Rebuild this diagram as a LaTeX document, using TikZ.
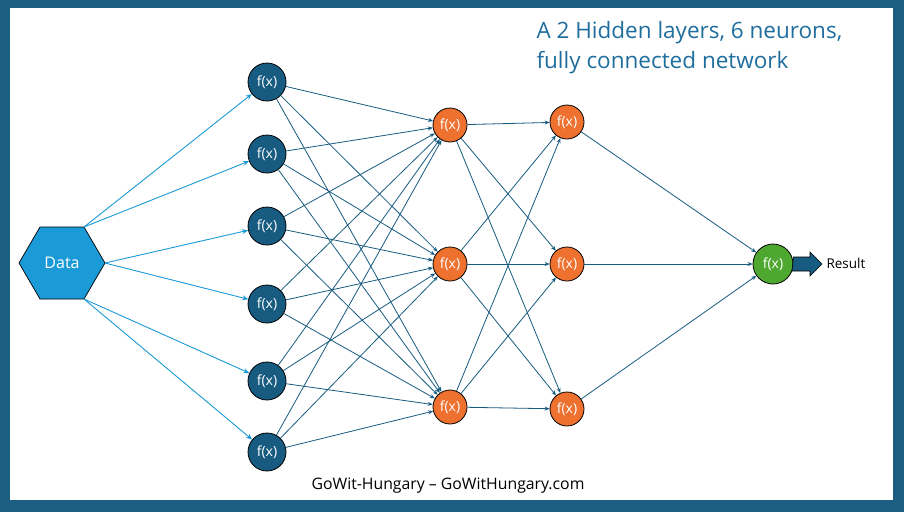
\documentclass[tikz,border=0pt]{standalone}
\usepackage{fontspec}
\setmainfont{Open Sans}
\usetikzlibrary{arrows.meta}
\definecolor{frame}{HTML}{1B5E82}
\definecolor{nblue}{HTML}{175C80}
\definecolor{lblue}{HTML}{1A9AD6}
\definecolor{orng}{HTML}{EE7130}
\definecolor{grn}{HTML}{4EA72E}
\definecolor{ttl}{HTML}{1F6E9E}
\begin{document}
\begin{tikzpicture}[x=1pt,y=-1pt,
  neu/.style={circle,draw=black,line width=0.8pt,inner sep=0pt,text=white,font=\fontsize{14}{14}\selectfont},
  l1/.style={neu,fill=nblue,minimum size=38pt},
  l2/.style={neu,fill=orng,minimum size=34pt},
  outn/.style={neu,fill=grn,minimum size=38pt},
  con/.style={draw=nblue,line width=0.8pt,-{Stealth[length=5pt,width=4pt]}},
  dcon/.style={draw=lblue,line width=0.9pt,-{Stealth[length=6pt,width=5pt,open]}}]
\fill[frame] (0,0) rectangle (904,512);
\fill[white] (10,8) rectangle (893,500);
\useasboundingbox (0,0) rectangle (904,512);
% hexagon
\coordinate (hl) at (19,263); \coordinate (hr) at (105,263);
\coordinate (hut) at (84,227); \coordinate (hlb) at (84,299);
\filldraw[fill=lblue,draw=black,line width=0.7pt] (hl) -- (40,227) -- (hut) -- (hr) -- (hlb) -- (40,299) -- cycle;
\node[text=white,font=\fontsize{16}{16}\selectfont] (data) at (62,263) {Data};
% nodes
\foreach \i/\y in {1/82,2/154,3/226,4/304,5/381,6/452}
  \node[l1] (a\i) at (267,\y) {f(x)};
\foreach \i/\y in {1/125,2/264,3/407}
  \node[l2] (b\i) at (450,\y) {f(x)};
\foreach \i/\y in {1/122,2/264,3/409}
  \node[l2] (c\i) at (567,\y) {f(x)};
\node[outn,minimum width=40pt,minimum height=37pt] (o) at (773,264) {f(x)};
% data connections
\draw[dcon] (hut) -- (a1); \draw[dcon] (hut) -- (a2);
\draw[dcon] (hr) -- (a3); \draw[dcon] (hr) -- (a4);
\draw[dcon] (hlb) -- (a5); \draw[dcon] (hlb) -- (a6);
\foreach \i in {1,...,6} \foreach \j in {1,2,3} \draw[con] (a\i) -- (b\j);
\foreach \i in {1,2,3} \foreach \j in {1,2,3} \draw[con] (b\i) -- (c\j);
\foreach \i in {1,2,3} \draw[con] (c\i) -- (o);
% result arrow
\coordinate (rt) at (822,264);
\filldraw[fill=nblue,draw=black,line width=0.6pt] (o.east) ++(0,-7) -- (810,257) -- (810,252) -- (rt) -- (810,276) -- (810,271) -- (792,271) -- cycle;
\node[anchor=west,font=\fontsize{13.5}{13.5}\selectfont] (res) at (823,263) {Result};
% title
\node[anchor=west,text=ttl,font=\fontsize{22.5}{22.5}\selectfont] (t1) at (533,33) {A 2 Hidden layers, 6 neurons,};
\node[anchor=west,text=ttl,font=\fontsize{22.5}{22.5}\selectfont] (t2) at (533,63) {fully connected network};
\node[font=\fontsize{15.8}{15.8}\selectfont] (foot) at (448,486) {GoWit-Hungary – GoWitHungary.com};
\end{tikzpicture}
\end{document}
